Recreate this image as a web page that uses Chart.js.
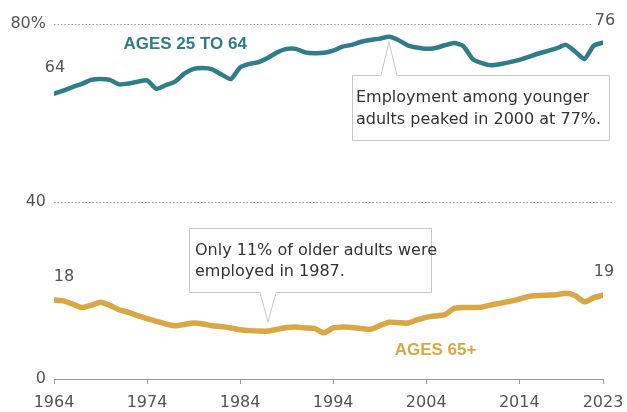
<!DOCTYPE html>
<html>
<head>
<meta charset="utf-8">
<script src="https://cdn.jsdelivr.net/npm/chart.js@4.4.1/dist/chart.umd.min.js"></script>
<style>
  html, body { margin: 0; padding: 0; background: #fff; }
</style>
</head>
<body>
<canvas id="chart" width="627" height="412"></canvas>
<script>
// employment rate by age group, 1964-2023 (%)
var years = [1964,1965,1966,1967,1968,1969,1970,1971,1972,1973,
             1974,1975,1976,1977,1978,1979,1980,1981,1982,1983,
             1984,1985,1986,1987,1988,1989,1990,1991,1992,1993,
             1994,1995,1996,1997,1998,1999,2000,2001,2002,2003,
             2004,2005,2006,2007,2008,2009,2010,2011,2012,2013,
             2014,2015,2016,2017,2018,2019,2020,2021,2022,2023];

var ages25to64 = [64.3,65.0,65.8,66.5,67.4,67.6,67.4,66.4,66.6,67.0,
                  67.3,65.4,66.2,67.0,68.8,69.9,70.1,69.8,68.6,67.6,
                  70.2,71.0,71.4,72.4,73.6,74.4,74.4,73.6,73.4,73.5,
                  74.0,74.9,75.3,76.0,76.4,76.7,77.1,76.4,75.2,74.7,
                  74.4,74.6,75.2,75.7,75.0,72.1,71.2,70.7,71.0,71.4,
                  71.9,72.6,73.3,73.9,74.5,75.3,73.8,72.1,75.1,75.8];

var ages65plus = [17.8,17.6,16.9,16.1,16.6,17.3,16.6,15.6,15.0,14.3,
                  13.6,13.0,12.4,12.0,12.3,12.6,12.4,12.0,11.8,11.5,
                  11.1,10.9,10.8,10.8,11.2,11.6,11.7,11.5,11.4,10.4,
                  11.5,11.7,11.6,11.4,11.2,12.0,12.8,12.7,12.6,13.3,
                  13.9,14.2,14.5,15.9,16.1,16.1,16.2,16.7,17.1,17.5,
                  18.0,18.6,18.8,18.9,19.0,19.3,18.8,17.4,18.3,18.9];

var xTicks = [1964, 1974, 1984, 1994, 2004, 2014, 2023];
var yTicks = [0, 40, 80];

var TEAL = '#2e7d88';
var GOLD = '#d9a744';
var FONT = '"DejaVu Sans", sans-serif';

function toPoints(vals) {
    return vals.map(function (v, i) { return { x: years[i], y: v }; });
}

// dotted gridlines at 40 and 80, running a bit past the plot
var dottedGrid = {
    id: 'dottedGrid',
    beforeDatasetsDraw: function (chart) {
        var ctx = chart.ctx, y = chart.scales.y, area = chart.chartArea;
        ctx.save();
        ctx.strokeStyle = '#9a9a9a';
        ctx.lineWidth = 1;
        ctx.setLineDash([1.5, 2]);
        [40, 80].forEach(function (v) {
            var py = Math.round(y.getPixelForValue(v)) + 0.5;
            ctx.beginPath();
            ctx.moveTo(area.left, py);
            ctx.lineTo(area.right + 9, py);
            ctx.stroke();
        });
        ctx.restore();
    }
};

function calloutPath(ctx, box, apex, side) {
    var hw = 8;
    ctx.beginPath();
    if (side === 'top') {
        ctx.moveTo(box.left, box.top);
        ctx.lineTo(apex.x - hw, box.top);
        ctx.lineTo(apex.x, apex.y);
        ctx.lineTo(apex.x + hw, box.top);
        ctx.lineTo(box.right, box.top);
        ctx.lineTo(box.right, box.bottom);
        ctx.lineTo(box.left, box.bottom);
    } else {
        ctx.moveTo(box.left, box.top);
        ctx.lineTo(box.right, box.top);
        ctx.lineTo(box.right, box.bottom);
        ctx.lineTo(apex.x + hw, box.bottom);
        ctx.lineTo(apex.x, apex.y);
        ctx.lineTo(apex.x - hw, box.bottom);
        ctx.lineTo(box.left, box.bottom);
    }
    ctx.closePath();
}

var annotations = {
    id: 'annotations',
    afterDatasetsDraw: function (chart) {
        var ctx = chart.ctx, xs = chart.scales.x, ys = chart.scales.y;
        var n = years.length - 1;
        function px(i, vals) { return { x: xs.getPixelForValue(years[i]), y: ys.getPixelForValue(vals[i]) }; }

        ctx.save();
        // end labels
        ctx.font = '16px ' + FONT;
        ctx.fillStyle = '#555';
        ctx.textAlign = 'center';
        ctx.textBaseline = 'middle';
        var p;
        p = px(0, ages25to64); ctx.fillText(Math.round(ages25to64[0]), p.x + 1, p.y - 26);
        p = px(0, ages65plus); ctx.fillText(Math.round(ages65plus[0]), p.x + 10, p.y - 23);
        p = px(n, ages25to64);
        ctx.fillStyle = '#fff'; ctx.fillRect(p.x - 12, p.y - 31, 24, 18);
        ctx.fillStyle = '#555'; ctx.fillText(Math.round(ages25to64[n]), p.x + 2, p.y - 22);
        p = px(n, ages65plus); ctx.fillText(Math.round(ages65plus[n]), p.x + 1, p.y - 23);

        // series names
        ctx.font = 'bold 17px "Liberation Sans", Arial, sans-serif';
        ctx.fillStyle = TEAL;
        ctx.fillText('AGES 25 TO 64', xs.getPixelForValue(1978.1), ys.getPixelForValue(75.4));
        ctx.fillStyle = GOLD;
        ctx.fillText('AGES 65+', xs.getPixelForValue(2005), ys.getPixelForValue(6.4));

        // callouts
        ctx.lineWidth = 1;
        ctx.setLineDash([]);
        ctx.strokeStyle = '#c8c8c8';
        ctx.fillStyle = '#fff';

        var peak = px(years.indexOf(2000), ages25to64);
        var box1 = { left: 352.5, top: 75.5, right: 609.5, bottom: 140.5 };
        calloutPath(ctx, box1, { x: peak.x, y: peak.y + 5 }, 'top');
        ctx.fill(); ctx.stroke();

        var low = px(years.indexOf(1987), ages65plus);
        var box2 = { left: 189.5, top: 228.5, right: 431.5, bottom: 292.5 };
        calloutPath(ctx, box2, { x: low.x, y: low.y - 9 }, 'bottom');
        ctx.fill(); ctx.stroke();

        ctx.font = '16px ' + FONT;
        ctx.fillStyle = '#333';
        ctx.textAlign = 'left';
        ctx.fillText('Employment among younger', 356, 98);
        ctx.fillText('adults peaked in 2000 at 77%.', 356, 120);
        ctx.fillText('Only 11% of older adults were', 195, 251);
        ctx.fillText('employed in 1987.', 195, 272);
        ctx.restore();
    }
};

var chart = new Chart(document.getElementById('chart').getContext('2d'), {
    type: 'line',
    data: {
        datasets: [
            {
                label: 'Ages 25 to 64',
                data: toPoints(ages25to64),
                borderColor: TEAL,
                borderWidth: 4.5,
                pointRadius: 0,
                tension: 0.2,
                borderJoinStyle: 'round',
                borderCapStyle: 'round'
            },
            {
                label: 'Ages 65+',
                data: toPoints(ages65plus),
                borderColor: GOLD,
                borderWidth: 5.5,
                pointRadius: 0,
                tension: 0.2,
                borderJoinStyle: 'round',
                borderCapStyle: 'round'
            }
        ]
    },
    options: {
        responsive: false,
        animation: false,
        devicePixelRatio: 1,
        layout: { padding: { top: 24, right: 24, left: 0, bottom: 0 } },
        plugins: {
            legend: { display: false },
            tooltip: { enabled: false }
        },
        scales: {
            x: {
                type: 'linear',
                min: 1964,
                max: 2023,
                afterBuildTicks: function (s) { s.ticks = xTicks.map(function (v) { return { value: v }; }); },
                afterFit: function (s) { s.height = 33; s.paddingLeft = 0; s.paddingRight = 0; },
                ticks: {
                    color: '#555',
                    font: { family: FONT, size: 16 },
                    padding: 9,
                    maxRotation: 0,
                    autoSkip: false,
                    callback: function (v) { return String(v); }
                },
                grid: { drawOnChartArea: false, drawTicks: true, tickLength: 5, color: '#999' },
                border: { display: true, color: '#999', width: 1 }
            },
            y: {
                min: 0,
                max: 80,
                afterBuildTicks: function (s) { s.ticks = yTicks.map(function (v) { return { value: v }; }); },
                afterFit: function (s) { s.width = 54; },
                ticks: {
                    color: '#555',
                    font: { family: FONT, size: 16 },
                    padding: 0,
                    callback: function (v) { return v === 80 ? v + '%' : String(v); }
                },
                grid: { display: false },
                border: { display: false }
            }
        }
    },
    plugins: [dottedGrid, annotations]
});
</script>
</body>
</html>
